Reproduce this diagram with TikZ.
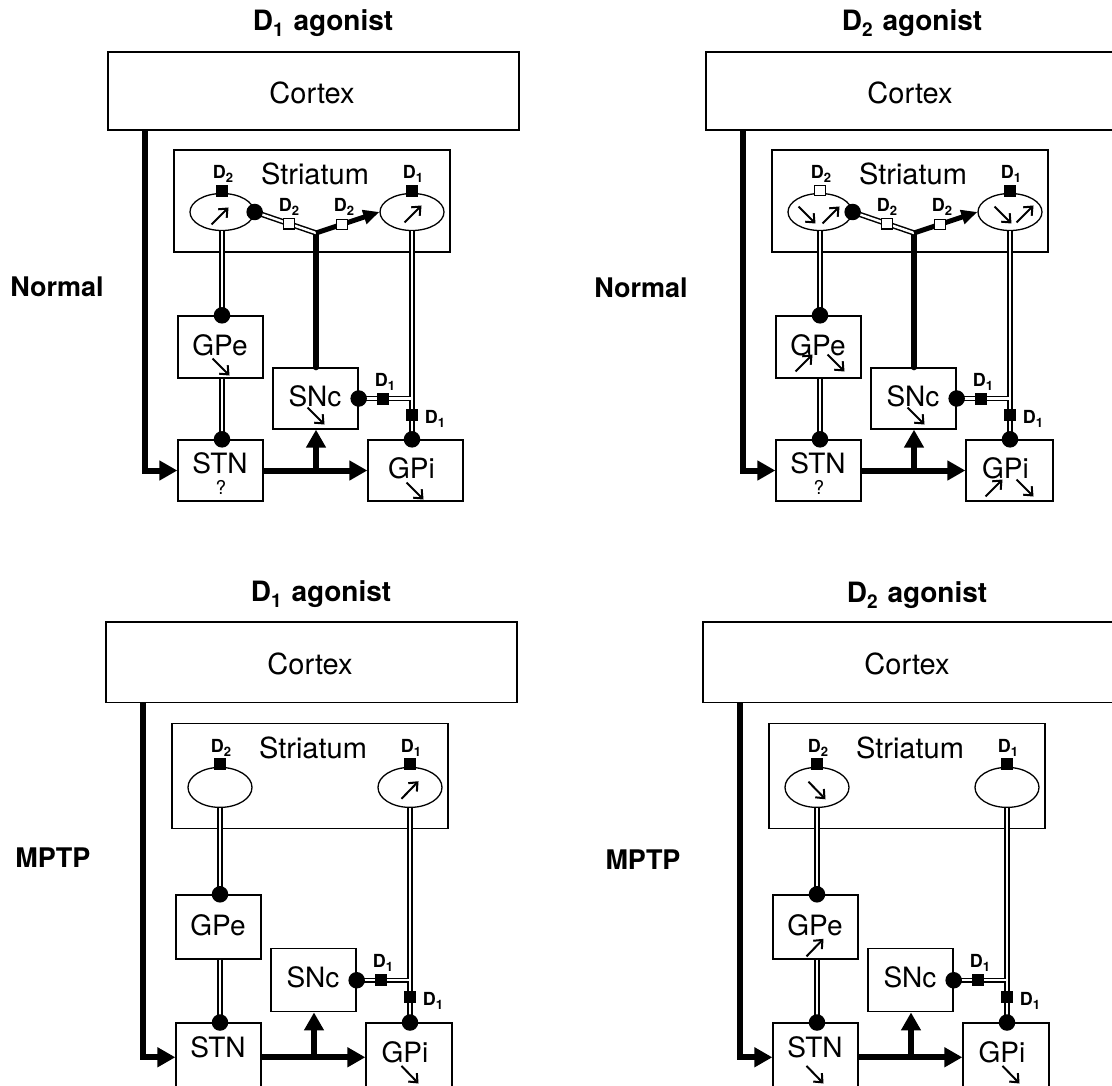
\documentclass[tikz,border=0pt]{standalone}
\usepackage{fontspec}
\setmainfont{TeX Gyre Heros}
\usetikzlibrary{arrows.meta,shapes.geometric,fit,calc}
\tikzset{
  box/.style={draw, rectangle, line width=1.3pt, inner sep=0pt},
  ell/.style={draw, ellipse, line width=1.3pt, minimum width=64pt, inner sep=0pt},
  lab/.style={inner sep=0pt, font=\fontsize{28}{32}\selectfont},
  biglab/.style={inner sep=0pt, font=\fontsize{29}{34}\selectfont},
  qlab/.style={inner sep=0pt, font=\fontsize{19}{22}\selectfont},
  rlab/.style={inner sep=0pt, font=\fontsize{18}{20}\selectfont\bfseries},
  hdr/.style={inner sep=0pt, font=\fontsize{28}{32}\selectfont\bfseries},
  side/.style={inner sep=0pt, font=\fontsize{27}{31}\selectfont\bfseries},
  rsqB/.style={rectangle, fill=black, draw=black, line width=0.6pt, minimum size=11pt, inner sep=0pt},
  rsqW/.style={rectangle, fill=white, draw=black, line width=1.1pt, minimum size=10.5pt, inner sep=0pt},
  dot/.style={circle, fill=black, minimum size=16.5pt, inner sep=0pt},
  thk/.style={line width=6pt},
  tip/.style={-{Triangle[length=18pt,width=19pt]}},
  dbl/.style={line width=1.5pt, double=white, double distance=2.4pt},
  sar/.style={line width=2pt, -{Straight Barb[length=7pt,width=12pt]}}
}
\newcommand{\rcp}[1]{D\raisebox{-4pt}{\fontsize{13}{15}\selectfont #1}}
\newcommand{\ptitle}[1]{D\raisebox{-6pt}{\fontsize{19}{22}\selectfont #1}\hspace{10pt}agonist}
\newcommand{\arUp}[2]{\draw[sar] (#1-8.5,#2+8.5) -- (#1+8.5,#2-8.5);}
\newcommand{\arDn}[2]{\draw[sar] (#1-8.5,#2-8.5) -- (#1+8.5,#2+8.5);}
\newcommand{\junction}{%
  \coordinate (jn) at (316,233);
  \draw[thk, line cap=round] (snc.north -| br) -- (jn);
  \draw[dbl] (sL.east) -- node[rsqW, pos=0.56] (q1) {} (jn);
  \draw[line width=5pt, -{Triangle[length=16pt,width=14pt]}] (jn) -- node[rsqW, pos=0.41] (q2) {} (sR.west);
  \node[dot] (dj) at (sL.east) {};
  \node[rlab] (q1T) at (289,207) {\rcp{2}};
  \node[rlab] (q2T) at (344,207) {\rcp{2}};
}
% #1 prefix, #2 transform, #3 GPi right x, #4 STN/GPi bottom y, #5 ellipse height, #6 variant content, #7 D2 receptor style
\newcommand{\panel}[7]{%
 \begin{scope}[name prefix=#1-, #2]
  \node[box, fit={(108,52)(519,130)}] (ctx) {};
  \node[biglab] (ctxT) at (312,93) {Cortex};
  \node[box, fit={(174,150)(450,252)}] (str) {};
  \node[biglab] (strT) at (315,174) {Striatum};
  \node[ell, minimum height=#5] (sL) at (222,212) {};
  \node[ell, minimum height=#5] (sR) at (412,212) {};
  \node[box, fit={(178,316)(263,378)}] (gpe) {};
  \node[lab] (gpeT) at (220,345) {GPe};
  \node[box, fit={(178,440)(263,#4)}] (stn) {};
  \node[lab] (stnT) at (220,463) {STN};
  \node[box, fit={(273,368)(358,429)}] (snc) {};
  \node[lab] (sncT) at (315,396) {SNc};
  \node[box, fit={(368,440)(#3,#4)}] (gpi) {};
  \node[lab] (gpiT) at ($(365,468)+(#3/2-3-182,0)$) {GPi};
  \coordinate (cl) at (145,0);
  \coordinate (br) at (316,0);
  \draw[thk, tip] (ctx.south -| cl) |- (stn.west);
  \draw[thk, tip] (stn.east) -- (stn.east -| gpi.west);
  \draw[thk, tip] (stn.east -| br) -- (snc.south -| br);
  \draw[dbl] (sL.south) -- (sL.south |- gpe.north);
  \draw[dbl] (gpe.south -| sL.south) -- (stn.north -| sL.south);
  \draw[dbl] (sR.south) -- node[rsqB, pos=0.88] (rv) {} (sR.south |- gpi.north);
  \draw[dbl] (snc.east) -- node[rsqB, pos=0.47] (rh) {} ([xshift=-1pt]snc.east -| sR.south);
  \node[dot] (d1) at (sL.south |- gpe.north) {};
  \node[dot] (d2) at (stn.north -| sL.south) {};
  \node[dot] (d3) at (sR.south |- gpi.north) {};
  \node[dot] (d4) at (snc.east) {};
  \node[#7] (rL) at ([yshift=2.5pt]sL.north) {};
  \node[rsqB] (rR) at ([yshift=2.5pt]sR.north) {};
  \node[rlab] (rLT) at (223,174) {\rcp{2}};
  \node[rlab] (rRT) at (413,174) {\rcp{1}};
  \node[rlab] (rhT) at (385,382) {\rcp{1}};
  \node[rlab] (rvT) at (435,419) {\rcp{1}};
  #6
 \end{scope}}
\begin{document}
\begin{tikzpicture}[x=1pt, y=-1pt]
\useasboundingbox (0,0) rectangle (1112,1086);
\fill[white] (0,0) rectangle (1112,1086);
% titles and row labels
\node[hdr] (t1) at (323,23) {\ptitle{1}};
\node[hdr] (t2) at (912,23) {\ptitle{2}};
\node[hdr] (t3) at (321,594) {\ptitle{1}};
\node[hdr] (t4) at (917,595) {\ptitle{2}};
\node[side] (n1) at (57,287) {Normal};
\node[side] (n2) at (641,288) {Normal};
\node[side] (m1) at (53,858) {MPTP};
\node[side] (m2) at (643,860) {MPTP};
% top left
\panel{TL}{}{463}{501}{37pt}{%
  \junction
  \arUp{220}{216}\arUp{413}{214}
  \arDn{221}{367}\arDn{316}{416}\arDn{415}{491}
  \node[qlab] (qm) at (221,487) {?};
}{rsqB}
% top right
\panel{TR}{xshift=598pt}{455}{501}{37pt}{%
  \junction
  \arDn{209}{215}\arUp{233}{215}
  \arDn{405}{215}\arUp{427}{214}
  \arUp{206}{363}\arDn{238}{363}
  \arDn{318}{416}
  \arUp{396}{488}\arDn{427}{488}
  \node[qlab] (qm) at (221,487) {?};
}{rsqW}
% bottom left
\panel{BL}{shift={(-2,568.3)}, yscale=1.0335}{454}{506}{40pt}{%
  \arUp{412}{214.5}
  \arDn{412}{490}
}{rsqB}
% bottom right
\panel{BR}{shift={(595,568.3)}, yscale=1.0335}{454}{506}{40pt}{%
  \arDn{222}{215}
  \arUp{220}{367}
  \arDn{220}{490}
  \arDn{416}{490}
}{rsqB}
\end{tikzpicture}
\end{document}
